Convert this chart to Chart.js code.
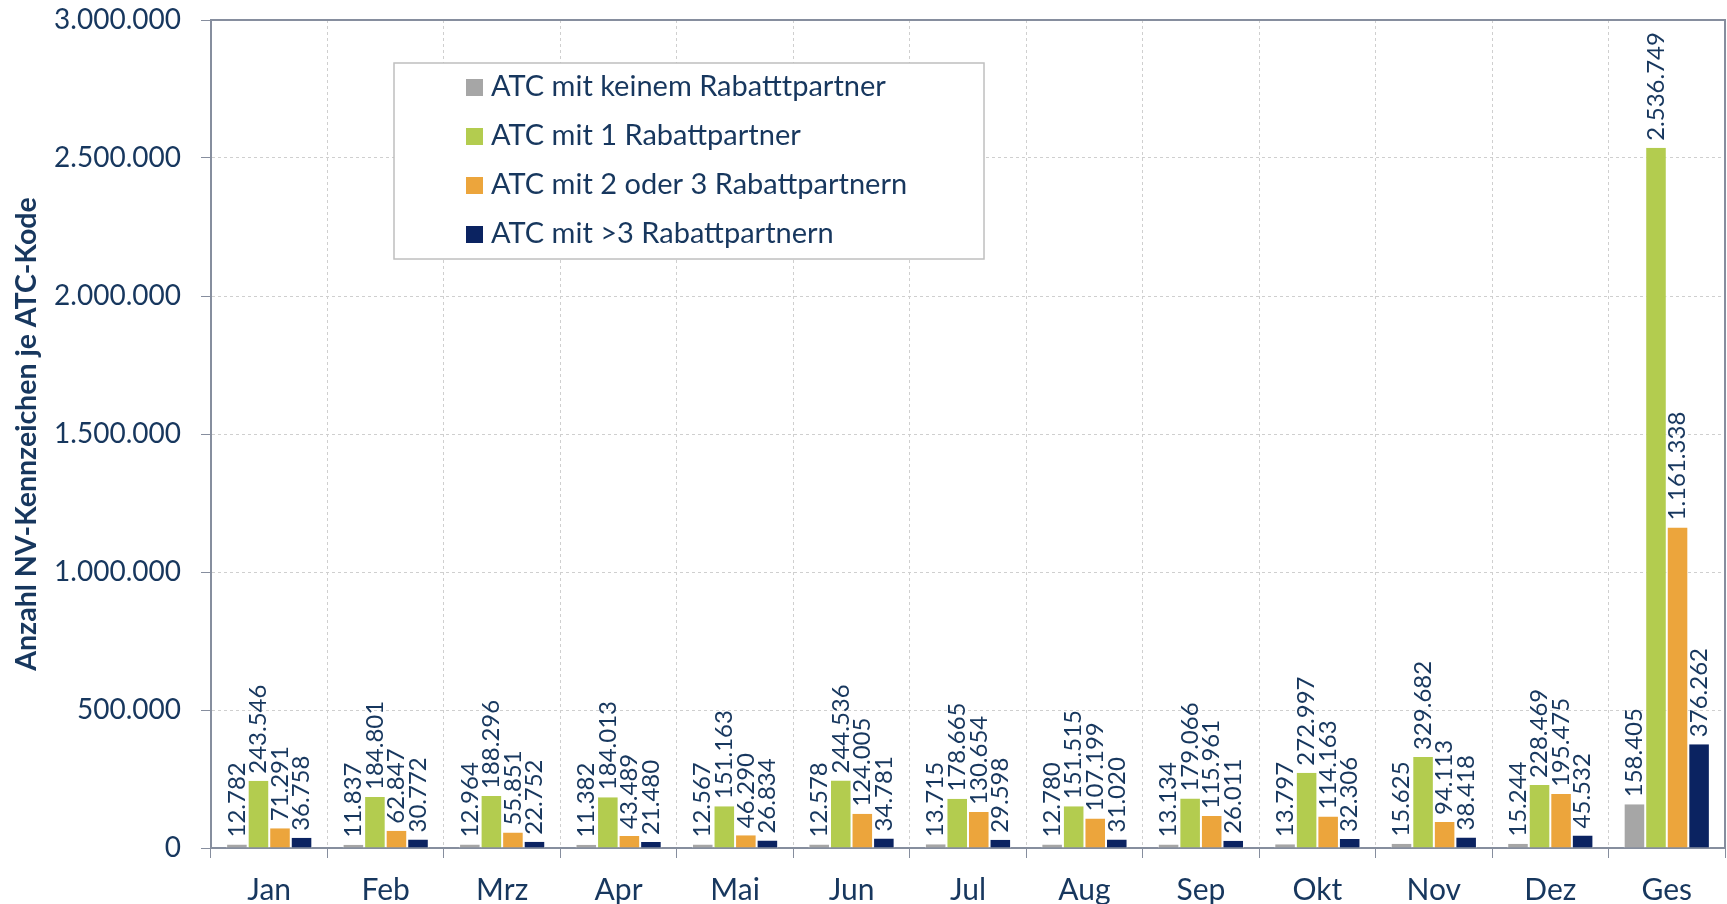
<!DOCTYPE html>
<html>
<head>
<meta charset="utf-8">
<script src="https://cdn.jsdelivr.net/npm/chart.js@4.4.1/dist/chart.umd.min.js"></script>
<style>
  html, body { margin: 0; padding: 0; background: #fff; }
  #wrap { width: 1727px; height: 904px; position: relative; }
</style>
</head>
<body>
<div id="wrap"><canvas id="chart"></canvas></div>
<script>
const months = ["Jan", "Feb", "Mrz", "Apr", "Mai", "Jun", "Jul", "Aug", "Sep", "Okt", "Nov", "Dez", "Ges"];
const keinem = [12782, 11837, 12964, 11382, 12567, 12578, 13715, 12780, 13134, 13797, 15625, 15244, 158405];
const einer = [243546, 184801, 188296, 184013, 151163, 244536, 178665, 151515, 179066, 272997, 329682, 228469, 2536749];
const zweiDrei = [71291, 62847, 55851, 43489, 46290, 124005, 130654, 107199, 115961, 114163, 94113, 195475, 1161338];
const mehrDrei = [36758, 30772, 22752, 21480, 26834, 34781, 29598, 31020, 26011, 32306, 38418, 45532, 376262];
const seriesNames = ["ATC mit keinem Rabatttpartner", "ATC mit 1 Rabattpartner", "ATC mit 2 oder 3 Rabattpartnern", "ATC mit >3 Rabattpartnern"];
const seriesColors = ["#A6A6A6", "#B3CC4F", "#ECA53C", "#0B2361"];
const yTicks = [0, 500000, 1000000, 1500000, 2000000, 2500000, 3000000];

const textColor = "#17375E";
const axisColor = "#868E9E";
const fontFam = "Lato, 'Open Sans', sans-serif";
const fmt = v => v.toLocaleString("de-DE");

const valueLabels = {
    id: "valueLabels",
    afterDatasetsDraw(chart) {
        const ctx = chart.ctx;
        ctx.save();
        ctx.fillStyle = textColor;
        ctx.font = "24px " + fontFam;
        ctx.textAlign = "left";
        ctx.textBaseline = "middle";
        chart.data.datasets.forEach((ds, i) => {
            chart.getDatasetMeta(i).data.forEach((bar, j) => {
                ctx.save();
                ctx.translate(bar.x, bar.y - 7);
                ctx.rotate(-Math.PI / 2);
                ctx.fillText(fmt(ds.data[j]), 0, 0);
                ctx.restore();
            });
        });
        ctx.restore();
    }
};

// top and right edge of the plot frame + legend box
const frameAndLegend = {
    id: "frameAndLegend",
    afterDraw(chart) {
        const ctx = chart.ctx;
        const a = chart.chartArea;
        ctx.save();
        ctx.strokeStyle = axisColor;
        ctx.lineWidth = 2;
        ctx.beginPath();
        ctx.moveTo(a.left, a.top);
        ctx.lineTo(a.right, a.top);
        ctx.lineTo(a.right, a.bottom);
        ctx.stroke();

        ctx.fillStyle = "#fff";
        ctx.fillRect(394, 63, 590, 196);
        ctx.strokeStyle = "#BFBFBF";
        ctx.lineWidth = 1.5;
        ctx.strokeRect(394, 63, 590, 196);
        ctx.font = "29px " + fontFam;
        ctx.textBaseline = "middle";
        ctx.textAlign = "left";
        chart.data.datasets.forEach((ds, i) => {
            const y = 87 + i * 49;
            ctx.fillStyle = ds.backgroundColor;
            ctx.fillRect(466, y - 8, 17, 17);
            ctx.fillStyle = textColor;
            ctx.fillText(ds.label, 491, y);
        });
        ctx.restore();
    }
};

new Chart(document.getElementById("chart"), {
    type: "bar",
    data: {
        labels: months,
        datasets: [keinem, einer, zweiDrei, mehrDrei].map((d, i) => ({
            label: seriesNames[i],
            data: d,
            backgroundColor: seriesColors[i],
            borderColor: "#fff",
            borderWidth: { left: 1, right: 1 },
            barPercentage: 1,
            categoryPercentage: 0.74
        }))
    },
    options: {
        responsive: true,
        maintainAspectRatio: false,
        animation: false,
        layout: { padding: { top: 20, right: 2, left: 0, bottom: 0 } },
        plugins: {
            legend: { display: false },
            tooltip: { enabled: false }
        },
        scales: {
            x: {
                grid: {
                    offset: true,
                    color: "#CFCFCF",
                    tickColor: axisColor,
                    tickLength: 10
                },
                border: { color: axisColor, width: 2, dash: [3, 3] },
                ticks: { color: textColor, font: { size: 30, family: fontFam }, padding: 14 },
                afterFit(s) { s.height = 56; }
            },
            y: {
                min: 0,
                max: 3000000,
                afterBuildTicks(s) { s.ticks = yTicks.map(v => ({ value: v })); },
                grid: {
                    color: "#CFCFCF",
                    tickColor: axisColor,
                    tickLength: 10
                },
                border: { color: axisColor, width: 2, dash: [3, 3] },
                ticks: {
                    color: textColor,
                    font: { size: 28, family: fontFam },
                    padding: 20,
                    callback: v => fmt(v)
                },
                title: {
                    display: true,
                    text: "Anzahl NV-Kennzeichen je ATC-Kode",
                    color: textColor,
                    font: { size: 28.5, weight: "bold", family: fontFam },
                    padding: { top: 10, bottom: 0 }
                },
                afterFit(s) {
                    s.width = 211;
                    s.paddingTop = 0;
                }
            }
        }
    },
    plugins: [valueLabels, frameAndLegend]
});
</script>
</body>
</html>
